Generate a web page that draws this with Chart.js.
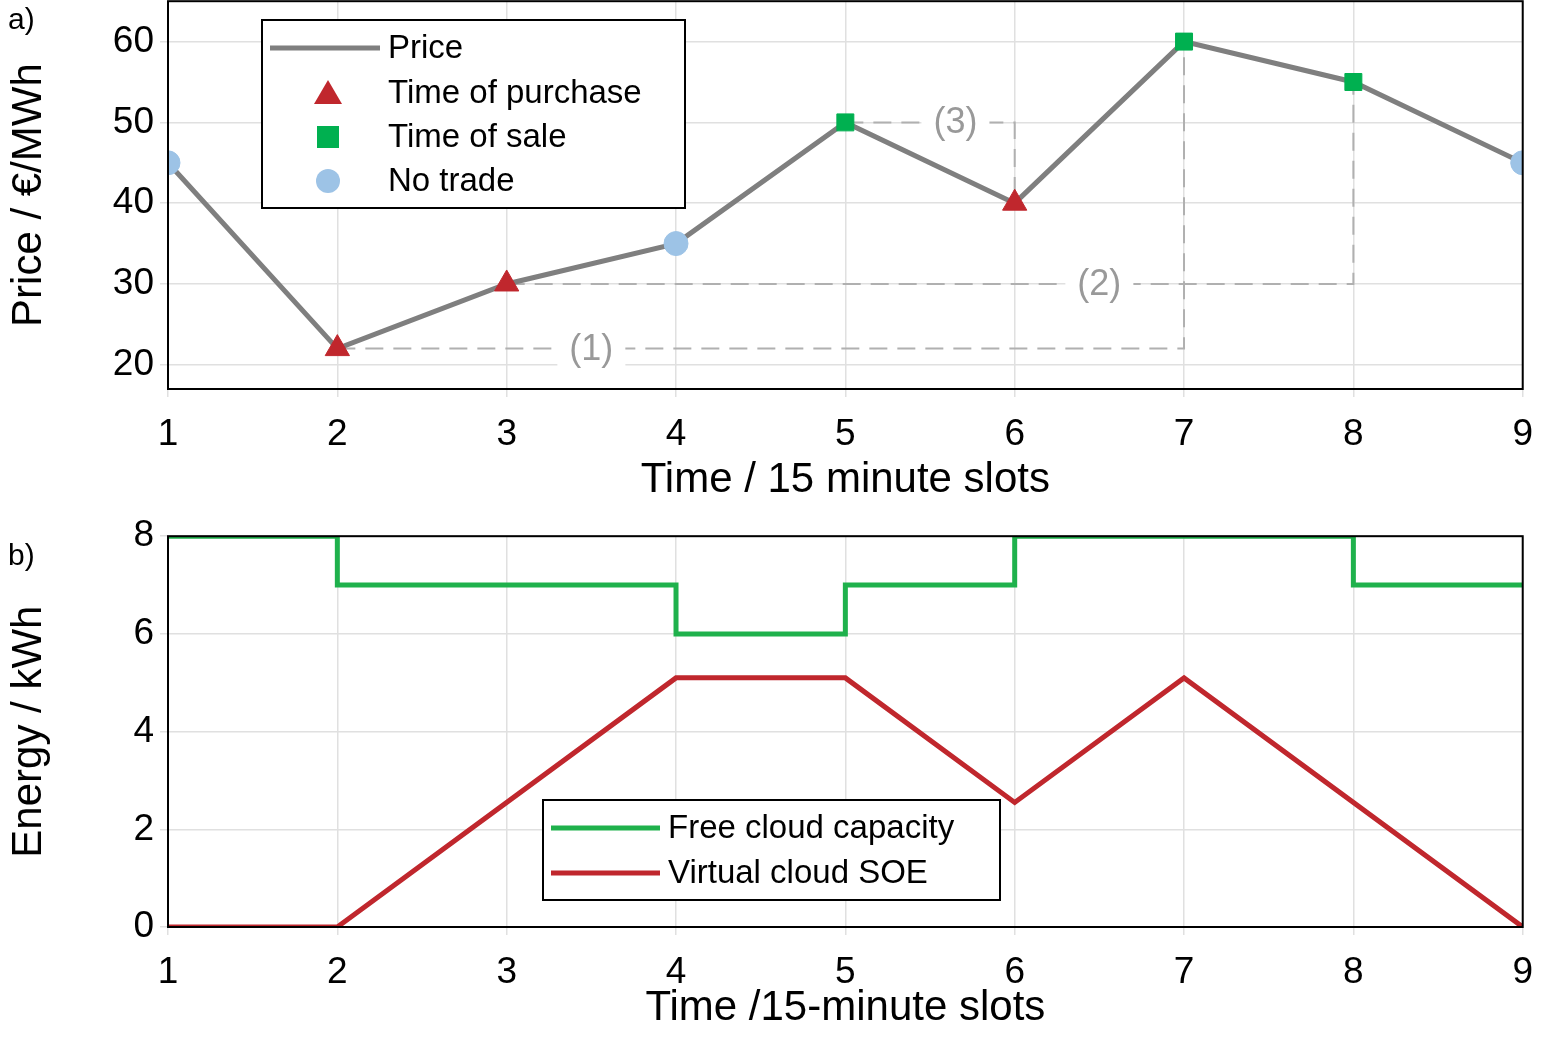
<!DOCTYPE html>
<html>
<head>
<meta charset="utf-8">
<script src="https://cdn.jsdelivr.net/npm/chart.js@4.4.1/dist/chart.umd.min.js"></script>
<style>
  body { margin: 0; background: #fff; width: 1549px; height: 1038px; overflow: hidden; position: relative; font-family: "Liberation Sans", Arial, sans-serif; }
  .box { position: absolute; left: 0; width: 1549px; }
  .tag { position: absolute; left: 8px; font-size: 30px; color: #000; z-index: 2; }
</style>
</head>
<body>
<div class="box" style="top:-27px;height:537px"><canvas id="priceChart"></canvas></div>
<div class="box" style="top:508px;height:530px"><canvas id="energyChart"></canvas></div>
<div class="tag" style="top:2px">a)</div>
<div class="tag" style="top:538px">b)</div>
<script>
// top panel data
var slots = [1, 2, 3, 4, 5, 6, 7, 8, 9];
var prices = [45, 22, 30, 35, 50, 40, 60, 55, 45];
var purchaseSlots = [2, 3, 6];
var saleSlots = [5, 7, 8];
var noTradeSlots = [1, 4, 9];
var priceTicks = [20, 30, 40, 50, 60];
// trade pairs: [buy slot, sell slot, label, label x]
var trades = [[2, 7, "(1)", 3.5], [3, 8, "(2)", 6.5], [5, 6, "(3)", 5.65]];

// bottom panel data
var capSlots = [1, 2, 4, 5, 6, 8, 9];
var capValues = [8, 7, 6, 7, 8, 7, 7];
var soeSlots = [1, 2, 4, 5, 6, 7, 9];
var soeValues = [0, 0, 5.1, 5.1, 2.55, 5.1, 0];
var energyTicks = [0, 2, 4, 6, 8];

var FONT = "'Liberation Sans', Arial, sans-serif";
var RED = "#c0272d", GREEN = "#00b050", BLUE = "#9dc3e6", GRAY = "#7f7f7f";

function priceOf(s) { return prices[slots.indexOf(s)]; }
function pts(list) { return list.map(s => ({ x: s, y: priceOf(s) })); }

var tradeSets = trades.map(t => ({
    data: [{ x: t[0], y: priceOf(t[0]) }, { x: t[1], y: priceOf(t[0]) }, { x: t[1], y: priceOf(t[1]) }],
    showLine: true, borderColor: "#b0b0b0", borderWidth: 2, borderDash: [18, 10], pointRadius: 0, order: 5
}));

var frame = {
    id: "frame",
    afterDraw(chart) {
        var a = chart.chartArea, c = chart.ctx;
        c.save();
        c.strokeStyle = "#000"; c.lineWidth = 2;
        c.strokeRect(a.left, a.top, a.right - a.left, a.bottom - a.top);
        c.restore();
    }
};

function legendPlugin(box, rows) {
    return {
        id: "legendBox",
        afterDraw(chart) {
            var c = chart.ctx;
            c.save();
            c.fillStyle = "#fff"; c.fillRect(box[0], box[1], box[2], box[3]);
            c.strokeStyle = "#000"; c.lineWidth = 2; c.strokeRect(box[0], box[1], box[2], box[3]);
            c.font = "33px " + FONT; c.textBaseline = "middle"; c.fillStyle = "#000";
            rows.forEach(r => {
                var y = r.y, cx = box[0] + 66;
                if (r.kind == "line") {
                    c.strokeStyle = r.color; c.lineWidth = 5;
                    c.beginPath(); c.moveTo(box[0] + 8, y); c.lineTo(box[0] + r.len, y); c.stroke();
                } else {
                    c.fillStyle = r.color;
                    c.beginPath();
                    if (r.kind == "tri") { c.moveTo(cx, y - 13); c.lineTo(cx + 14, y + 11); c.lineTo(cx - 14, y + 11); c.closePath(); }
                    else if (r.kind == "sq") { c.rect(cx - 11, y - 11, 22, 22); }
                    else { c.arc(cx, y, 12, 0, Math.PI * 2); }
                    c.fill();
                }
                c.fillStyle = "#000";
                c.fillText(r.text, box[0] + r.tx, y + 1);
            });
            c.restore();
        }
    };
}

var tradeLabels = {
    id: "tradeLabels",
    afterDatasetsDraw(chart) {
        var c = chart.ctx, sx = chart.scales.x, sy = chart.scales.y;
        c.save();
        c.font = "36px " + FONT; c.textAlign = "center"; c.textBaseline = "middle";
        trades.forEach(t => {
            var x = sx.getPixelForValue(t[3]), y = sy.getPixelForValue(priceOf(t[0]));
            c.fillStyle = "#fff"; c.fillRect(x - 34, y - 20, 68, 40);
            c.fillStyle = "#999"; c.fillText(t[2], x, y + 1);
        });
        c.restore();
    }
};

function fixedAxes(yWidth, xHeight, yTicks) {
    return {
        x: {
            type: "linear", min: 1, max: 9,
            afterBuildTicks: s => { s.ticks = slots.map(v => ({ value: v })); },
            afterFit: s => { s.height = xHeight; },
            grid: { color: "#e0e0e0", lineWidth: 1.5, tickLength: 8 },
            border: { display: false },
            ticks: { color: "#000", font: { size: 37, family: FONT }, padding: 16, maxRotation: 0 },
        },
        y: {
            afterBuildTicks: s => { s.ticks = yTicks.map(v => ({ value: v })); },
            afterFit: s => { s.width = yWidth; },
            grid: { color: "#e0e0e0", lineWidth: 1.5, tickLength: 8 },
            border: { display: false },
            ticks: { color: "#000", font: { size: 37, family: FONT }, padding: 6 },
        }
    };
}

var topScales = fixedAxes(168, 121, priceTicks);
topScales.y.min = 17; topScales.y.max = 65;
topScales.x.title = { display: true, text: "Time / 15 minute slots", color: "#000", font: { size: 42, family: FONT }, padding: { top: 0 } };
topScales.y.title = { display: true, text: "Price / €/MWh", color: "#000", font: { size: 42, family: FONT }, padding: { bottom: 0 } };

new Chart("priceChart", {
    type: "scatter",
    data: {
        datasets: [{
            data: pts(slots), showLine: true, borderColor: GRAY, borderWidth: 5, pointRadius: 0, order: 2
        }, {
            data: pts(purchaseSlots), pointStyle: "triangle", pointRadius: 14, backgroundColor: RED, borderColor: RED, order: 1
        }, {
            data: pts(saleSlots), pointStyle: "rect", pointRadius: 12, backgroundColor: GREEN, borderColor: GREEN, order: 1
        }, {
            data: pts(noTradeSlots), pointStyle: "circle", pointRadius: 12, backgroundColor: BLUE, borderColor: BLUE, order: 1
        }].concat(tradeSets)
    },
    options: {
        responsive: true, maintainAspectRatio: false, animation: false,
        layout: { padding: { top: 0, right: 0, left: 0, bottom: 0 } },
        plugins: { legend: { display: false }, tooltip: { enabled: false } },
        scales: topScales
    },
    plugins: [frame, tradeLabels, legendPlugin([262, 47, 423, 188], [
        { kind: "line", color: GRAY, len: 118, text: "Price", tx: 126, y: 75 },
        { kind: "tri", color: RED, text: "Time of purchase", tx: 126, y: 120 },
        { kind: "sq", color: GREEN, text: "Time of sale", tx: 126, y: 164 },
        { kind: "dot", color: BLUE, text: "No trade", tx: 126, y: 208 }
    ])]
});

var botScales = fixedAxes(168, 111, energyTicks);
botScales.y.min = 0; botScales.y.max = 8;
botScales.x.title = { display: true, text: "Time /15-minute slots", color: "#000", font: { size: 42, family: FONT }, padding: { top: 0 } };
botScales.y.title = { display: true, text: "Energy / kWh", color: "#000", font: { size: 42, family: FONT }, padding: { bottom: 0 } };

new Chart("energyChart", {
    type: "scatter",
    data: {
        datasets: [{
            data: capSlots.map((s, i) => ({ x: s, y: capValues[i] })),
            showLine: true, stepped: "before", borderColor: "#1fb14c", borderWidth: 5, pointRadius: 0
        }, {
            data: soeSlots.map((s, i) => ({ x: s, y: soeValues[i] })),
            showLine: true, borderColor: RED, borderWidth: 5, pointRadius: 0
        }]
    },
    options: {
        responsive: true, maintainAspectRatio: false, animation: false,
        layout: { padding: { top: 0, right: 0, left: 0, bottom: 0 } },
        plugins: { legend: { display: false }, tooltip: { enabled: false } },
        scales: botScales
    },
    plugins: [frame, legendPlugin([543, 292, 457, 100], [
        { kind: "line", color: "#1fb14c", len: 117, text: "Free cloud capacity", tx: 125, y: 320 },
        { kind: "line", color: RED, len: 117, text: "Virtual cloud SOE", tx: 125, y: 365 }
    ])]
});
</script>
</body>
</html>
